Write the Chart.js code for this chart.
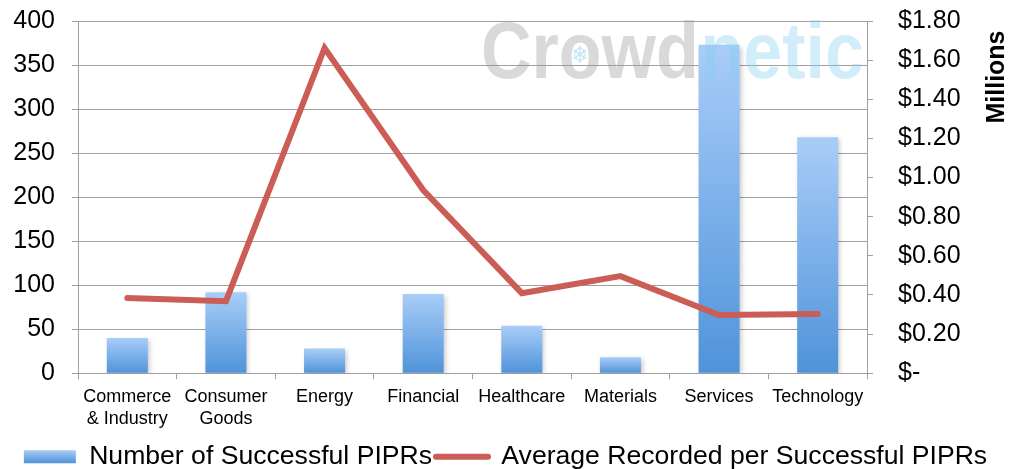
<!DOCTYPE html>
<html>
<head>
<meta charset="utf-8">
<script src="https://cdn.jsdelivr.net/npm/chart.js@4"></script>
<style>
  html, body { margin: 0; padding: 0; background: #fff; }
  #wrap { width: 1011px; height: 469px; }
</style>
</head>
<body>
<div id="wrap"><canvas id="myChart"></canvas></div>
<script>
// sectors on the x axis
var categories = [['Commerce', '& Industry'], ['Consumer', 'Goods'], 'Energy', 'Financial', 'Healthcare', 'Materials', 'Services', 'Technology'];
// number of successful PIPRs (left axis)
var successCount = [40, 92, 28, 90, 54, 18, 373, 268];
// average recorded per successful PIPR, in millions (right axis)
var avgRecorded = [0.384, 0.368, 1.662, 0.936, 0.409, 0.496, 0.297, 0.302];

var countLabel = 'Number of Successful PIPRs';
var avgLabel = 'Average Recorded per Successful PIPRs';

var FONT = '"Liberation Sans", Arial, sans-serif';
var gridGray = '#a0a0a0';
var lineRed = '#cb5d56';
var barTop = '#a9cdf8';
var barBottom = '#4f93da';

function barGradient(c) {
  var chart = c.chart;
  if (!chart.chartArea || c.raw === undefined) return barBottom;
  var y = chart.scales.y;
  var top = y.getPixelForValue(c.raw);
  var base = y.getPixelForValue(0);
  var g = chart.ctx.createLinearGradient(0, top, 0, base);
  g.addColorStop(0, barTop);
  g.addColorStop(1, barBottom);
  return g;
}

// vertical axes: fixed width, and no extra top/bottom padding from tick padding
function fixAxis(width) {
  return function (scale) {
    scale.width = width;
    scale.paddingTop = 21;
    scale.paddingBottom = 0;
  };
}

// soft shadow under the bars
var barShadow = {
  id: 'barShadow',
  beforeDatasetDraw: function (chart, args) {
    if (args.index !== 0) return;
    var ctx = chart.ctx;
    ctx.save();
    ctx.shadowColor = 'rgba(0,0,0,0.22)';
    ctx.shadowBlur = 5;
    ctx.shadowOffsetX = 2;
    ctx.shadowOffsetY = 2;
  },
  afterDatasetDraw: function (chart, args) {
    if (args.index !== 0) return;
    chart.ctx.restore();
  }
};

// logo text over the plot and the rotated unit title on the right
var extras = {
  id: 'extras',
  afterDatasetsDraw: function (chart) {
    var ctx = chart.ctx;
    ctx.save();
    ctx.font = 'bold 80px ' + FONT;
    ctx.textBaseline = 'alphabetic';
    ctx.textAlign = 'left';
    ctx.translate(481, 78);
    ctx.scale(0.875, 1);
    ctx.fillStyle = 'rgba(150,150,150,0.36)';
    ctx.fillText('Crowd', 0, 0);
    var w = ctx.measureText('Crowd').width;
    var wCr = ctx.measureText('Cr').width;
    var wO = ctx.measureText('o').width;
    ctx.fillStyle = 'rgba(130,205,240,0.36)';
    ctx.fillText('netic', w + 2, 0);
    // snowflake inside the "o"
    ctx.font = '24px "DejaVu Sans", sans-serif';
    ctx.textAlign = 'center';
    ctx.textBaseline = 'middle';
    ctx.fillStyle = 'rgba(130,205,240,0.5)';
    ctx.fillText('\u2744', wCr + wO / 2, -21);
    ctx.restore();

    ctx.save();
    ctx.translate(997, 77);
    ctx.rotate(-Math.PI / 2);
    ctx.font = 'bold 25px ' + FONT;
    ctx.fillStyle = '#000';
    ctx.textAlign = 'center';
    ctx.textBaseline = 'middle';
    ctx.fillText('Millions', 0, 0);
    ctx.restore();
  }
};

var ctx = document.getElementById('myChart').getContext('2d');
var legendBox = ctx.createLinearGradient(0, 450, 0, 463);
legendBox.addColorStop(0, barTop);
legendBox.addColorStop(1, barBottom);

var myChart = new Chart(ctx, {
  data: {
    labels: categories,
    datasets: [{
      type: 'bar',
      label: countLabel,
      data: successCount,
      yAxisID: 'y',
      backgroundColor: barGradient,
      borderWidth: 0,
      barPercentage: 0.52,
      categoryPercentage: 0.8,
      order: 2
    }, {
      type: 'line',
      label: avgLabel,
      data: avgRecorded,
      yAxisID: 'y1',
      borderColor: lineRed,
      borderWidth: 6,
      borderCapStyle: 'round',
      pointRadius: 0,
      tension: 0,
      order: 1
    }]
  },
  options: {
    responsive: true,
    maintainAspectRatio: false,
    animation: false,
    layout: { padding: { top: 0, left: 0, right: 0, bottom: -11 } },
    plugins: {
      tooltip: { enabled: false },
      legend: {
        position: 'bottom',
        labels: {
          font: { family: FONT, size: 26.6 },
          color: '#000',
          usePointStyle: true,
          pointStyleWidth: 52,
          boxHeight: 13,
          padding: 4,
          generateLabels: function () {
            return [{
              text: countLabel, fillStyle: legendBox, strokeStyle: 'rgba(0,0,0,0)',
              lineWidth: 0, pointStyle: 'rect', datasetIndex: 0, fontColor: '#000'
            }, {
              text: avgLabel, fillStyle: lineRed, strokeStyle: lineRed, lineCap: 'round',
              lineWidth: 6, pointStyle: 'line', datasetIndex: 1, fontColor: '#000'
            }];
          }
        }
      }
    },
    scales: {
      x: {
        grid: { drawOnChartArea: false, color: gridGray, tickLength: 6 },
        border: { color: gridGray },
        ticks: {
          color: '#000', font: { family: FONT, size: 18 }, padding: 7,
          maxRotation: 0, autoSkip: false
        },
        afterFit: function (scale) { scale.height += 3; }
      },
      y: {
        position: 'left',
        min: 0, max: 400,
        grid: { color: gridGray, tickLength: 6 },
        border: { color: gridGray },
        ticks: { stepSize: 50, color: '#000', font: { family: FONT, size: 25 }, padding: 17, autoSkip: false },
        afterFit: fixAxis(78)
      },
      y1: {
        position: 'right',
        min: 0, max: 1.8,
        grid: { drawOnChartArea: false, color: gridGray, tickLength: 6 },
        border: { color: gridGray },
        ticks: {
          stepSize: 0.2, color: '#000', font: { family: FONT, size: 25 }, padding: 25, autoSkip: false,
          callback: function (v) { return Math.abs(v) < 1e-9 ? '$-' : '$' + v.toFixed(2); }
        },
        afterFit: fixAxis(1011 - 867)
      }
    }
  },
  plugins: [barShadow, extras]
});
</script>
</body>
</html>
